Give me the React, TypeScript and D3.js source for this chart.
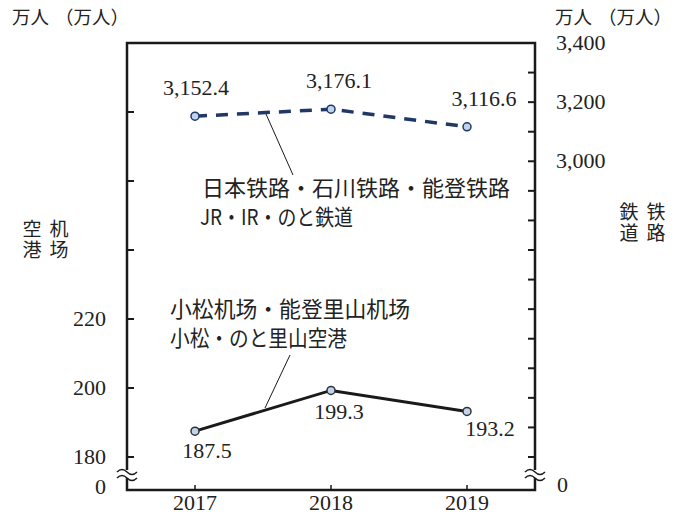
import { useEffect, useRef } from 'react'
import * as d3 from 'd3'

const YEARS = ['2017', '2018', '2019']
const AIRPORT = [187.5, 199.3, 193.2]
const RAIL = [3152.4, 3176.1, 3116.6]
const LEFT_TICKS = [180, 200, 220, 240, 260, 280, 300]
const LEFT_LABELS = [180, 200, 220]
const RIGHT_TICKS = d3.range(2000, 3401, 100)
const RIGHT_LABELS = [3000, 3200, 3400]

const RAIL_NAME = ['日本铁路・石川铁路・能登铁路', 'JR・IR・のと鉄道']
const AIR_NAME = ['小松机场・能登里山机场', '小松・のと里山空港']

const SERIF = '"Liberation Serif", "DejaVu Serif", serif'
const CJK = '"Noto Sans CJK JP", "Noto Sans CJK SC", sans-serif'

// label nudges (px) relative to each point
const RAIL_DX = [1, 8, 17]
const AIR_DX = [12, 8, 23]
const AIR_DY = [27, 29, 25]

export default function App() {
  const ref = useRef<SVGSVGElement>(null)

  useEffect(() => {
    const svg = d3.select(ref.current!)
    svg.selectAll('*').remove()
    const W = 688, H = 515
    const L = 127, R = 535, T = 43, B = 490, base = 457
    const FS = 22

    const x = d3.scalePoint<string>().domain(YEARS).range([L, R]).padding(0.5)
    const yL = d3.scaleLinear().domain([180, 300]).range([base, T])
    const yR = d3.scaleLinear().domain([2000, 3400]).range([base, T])

    svg.attr('width', W).attr('height', H).attr('viewBox', `0 0 ${W} ${H}`)
    svg.append('rect').attr('width', W).attr('height', H).attr('fill', '#fff')

    // frame
    svg.append('rect').attr('x', L).attr('y', T).attr('width', R - L).attr('height', B - T)
      .attr('fill', 'none').attr('stroke', '#1a1a1a').attr('stroke-width', 2.5)

    // left ticks
    svg.append('g').selectAll('line').data(LEFT_TICKS).join('line')
      .attr('x1', L).attr('x2', L + 7).attr('y1', d => yL(d)).attr('y2', d => yL(d))
      .attr('stroke', '#1a1a1a').attr('stroke-width', 2)
    svg.append('g').selectAll('text').data(LEFT_LABELS).join('text')
      .attr('x', 106).attr('y', d => yL(d) + 7).attr('text-anchor', 'end')
      .attr('font-family', SERIF).attr('font-size', FS).attr('fill', '#222').text(d => d)

    // right ticks
    svg.append('g').selectAll('line').data(RIGHT_TICKS).join('line')
      .attr('x1', R - 7).attr('x2', R).attr('y1', d => yR(d)).attr('y2', d => yR(d))
      .attr('stroke', '#1a1a1a').attr('stroke-width', 2)
    svg.append('g').selectAll('text').data(RIGHT_LABELS).join('text')
      .attr('x', 556).attr('y', d => yR(d) + 7)
      .attr('font-family', SERIF).attr('font-size', FS).attr('fill', '#222').text(d => d3.format(',')(d))

    // x ticks + labels
    svg.append('g').selectAll('line').data(YEARS).join('line')
      .attr('x1', d => x(d)!).attr('x2', d => x(d)!).attr('y1', B).attr('y2', B - 5)
      .attr('stroke', '#1a1a1a').attr('stroke-width', 1.5)
    svg.append('g').selectAll('text').data(YEARS).join('text')
      .attr('x', d => x(d)!).attr('y', B + 20).attr('text-anchor', 'middle')
      .attr('font-family', SERIF).attr('font-size', FS).attr('fill', '#222').text(d => d)

    // zero labels
    svg.append('text').attr('x', 106).attr('y', 494).attr('text-anchor', 'end')
      .attr('font-family', SERIF).attr('font-size', FS).attr('fill', '#222').text('0')
    svg.append('text').attr('x', 557).attr('y', 492)
      .attr('font-family', SERIF).attr('font-size', FS).attr('fill', '#222').text('0')

    // axis breaks
    const wave = (cx: number, cy: number) => {
      const g = svg.append('g')
      g.append('rect').attr('x', cx - 4).attr('y', cy - 4).attr('width', 8).attr('height', 8).attr('fill', '#fff')
      ;[-3, 3].forEach(o => {
        g.append('path')
          .attr('d', `M${cx - 10},${cy + o + 1} q5,-5 10,0 t10,0`)
          .attr('fill', 'none').attr('stroke', '#1a1a1a').attr('stroke-width', 1.5)
      })
    }
    wave(L, 474)
    wave(R, 474)

    // rail line
    const railLine = d3.line<number>().x((_, i) => x(YEARS[i])!).y(d => yR(d))
    svg.append('path').attr('d', railLine(RAIL)).attr('fill', 'none')
      .attr('stroke', '#1f3864').attr('stroke-width', 3.5).attr('stroke-dasharray', '12 9')
    svg.append('g').selectAll('circle').data(RAIL).join('circle')
      .attr('cx', (_, i) => x(YEARS[i])!).attr('cy', d => yR(d)).attr('r', 4)
      .attr('fill', '#bdd3ee').attr('stroke', '#1f3864').attr('stroke-width', 1.5)
    svg.append('g').selectAll('text').data(RAIL).join('text')
      .attr('x', (_, i) => x(YEARS[i])! + RAIL_DX[i]).attr('y', d => yR(d) - 21)
      .attr('text-anchor', 'middle').attr('font-family', SERIF).attr('font-size', FS).attr('fill', '#222')
      .text(d => d3.format(',.1f')(d))

    // airport line
    const airLine = d3.line<number>().x((_, i) => x(YEARS[i])!).y(d => yL(d))
    svg.append('path').attr('d', airLine(AIRPORT)).attr('fill', 'none')
      .attr('stroke', '#1a1a1a').attr('stroke-width', 3)
    svg.append('g').selectAll('circle').data(AIRPORT).join('circle')
      .attr('cx', (_, i) => x(YEARS[i])!).attr('cy', d => yL(d)).attr('r', 4)
      .attr('fill', '#bdd3ee').attr('stroke', '#333').attr('stroke-width', 1.5)
    svg.append('g').selectAll('text').data(AIRPORT).join('text')
      .attr('x', (_, i) => x(YEARS[i])! + AIR_DX[i]).attr('y', (d, i) => yL(d) + AIR_DY[i])
      .attr('text-anchor', 'middle').attr('font-family', SERIF).attr('font-size', FS).attr('fill', '#222')
      .text(d => d.toFixed(1))

    // leader lines + series names
    svg.append('line').attr('x1', 266).attr('y1', 114).attr('x2', 293).attr('y2', 175)
      .attr('stroke', '#1a1a1a').attr('stroke-width', 1)
    svg.append('line').attr('x1', 290).attr('y1', 355).attr('x2', 265).attr('y2', 408)
      .attr('stroke', '#1a1a1a').attr('stroke-width', 1)

    const name = (t: string, tx: number, ty: number, len: number) => {
      svg.append('text').attr('x', tx).attr('y', ty)
        .attr('font-family', CJK).attr('font-size', 22).attr('fill', '#222')
        .attr('textLength', len).attr('lengthAdjust', 'spacingAndGlyphs').text(t)
    }
    name(RAIL_NAME[0], 202, 196, 308)
    name(RAIL_NAME[1], 200, 225, 153)
    name(AIR_NAME[0], 170, 317, 240)
    name(AIR_NAME[1], 170, 346, 177)

    // unit labels
    ;[12, 555].forEach(ux => {
      svg.append('text').attr('x', ux).attr('y', 24)
        .attr('font-family', CJK).attr('font-size', 18.5).attr('fill', '#222').text('万人')
      svg.append('text').attr('x', ux + 43).attr('y', 24)
        .attr('font-family', CJK).attr('font-size', 18.5).attr('fill', '#222').text('（万人）')
    })

    // vertical axis titles (two vertical columns each)
    const vert = (cols: string[], x0: number, y0: number) => {
      cols.forEach((col, ci) => {
        svg.append('text').attr('x', x0 + ci * 27).attr('y', y0)
          .attr('writing-mode', 'vertical-rl').attr('letter-spacing', 2)
          .attr('font-family', CJK).attr('font-size', 19).attr('fill', '#222').text(col)
      })
    }
    vert(['空港', '机场'], 32, 219)
    vert(['鉄道', '铁路'], 629, 202)
  }, [])

  return <svg ref={ref} style={{ position: 'absolute', left: 0, top: 0, display: 'block' }} />
}
